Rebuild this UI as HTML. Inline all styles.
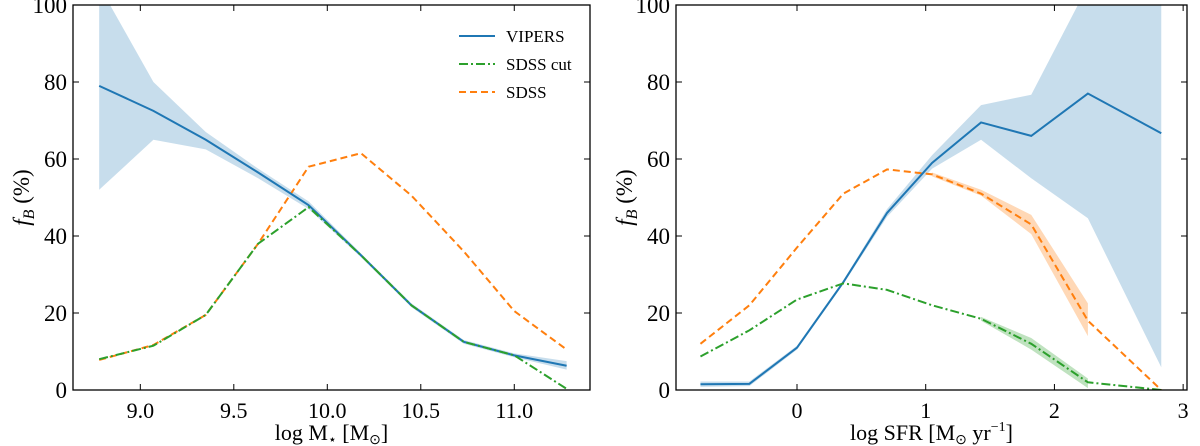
<!DOCTYPE html>
<html><head><meta charset="utf-8"><style>
body{margin:0;background:#fff}
svg{display:block;font-family:"Liberation Serif",serif}
</style></head><body>
<svg id="c" width="1200" height="446"></svg>
<script>
const leftX=[8.78,9.07,9.35,9.63,9.90,10.18,10.45,10.73,11.00,11.28];
const leftVipers=[79,72.5,65,56.5,48,35,22,12.5,9,6.3];
const leftVipersHi=[105,80,67,57.5,49,35.5,22.5,13,9.5,7.5];
const leftVipersLo=[52,65,62.5,55,47,34.5,21.5,12,8.5,5.3];
const leftCut=[8,11.5,19.5,38,47.5,35,22,12.5,9,0.3];
const leftSdss=[7.8,11.7,19.5,38,58,61.5,50.5,36,20.5,10.5];
const leftXTicks=[9.0,9.5,10.0,10.5,11.0];
const leftXLabels=["9.0","9.5","10.0","10.5","11.0"];
const yTicks=[0,20,40,60,80,100];

const rightX=[-0.75,-0.37,0.0,0.36,0.70,1.05,1.43,1.82,2.26,2.83];
const rightVipers=[1.5,1.6,11,28,46,59,69.5,66,77,66.7];
const rightVipersHi=[2.2,2.2,11.5,28.5,47,61,74,76.7,105,105];
const rightVipersLo=[0.8,1,10.5,27.5,45,57.5,65,55,44.6,5.9];
const rightCut=[8.7,15.5,23.5,27.7,26,22,18.5,12,2,0];
const rightCutHi=[19,13.5,3];
const rightCutLo=[18,10.5,0.5];
const rightSdss=[12,22,37,51,57.3,56,51,43,18,0];
const rightSdssBandX=[1.05,1.43,1.82,2.26];
const rightSdssHi=[56.5,52,45.5,22.5];
const rightSdssLo=[55.5,50.5,40.5,14];
const rightCutBandX=[1.43,1.82,2.26];
const rightXTicks=[0,1,2,3];
const rightXLabels=["0","1","2","3"];

const NS="http://www.w3.org/2000/svg";
const svg=document.getElementById('c');
function mk(tag,attrs,parent){const e=document.createElementNS(NS,tag);for(const k in attrs)e.setAttribute(k,attrs[k]);(parent||svg).appendChild(e);return e;}
const BLUE="#1f77b4",ORANGE="#ff7f0e",GREEN="#2ca02c";

function panel(P){
  const g=mk('g',{});
  
  
  const sx=v=>P.x0+(v-P.xmin)/(P.xmax-P.xmin)*(P.x1-P.x0);
  const sy=v=>P.y1-(v/100)*(P.y1-P.y0);
  const clipId=P.name+'-clip';
  const cp=mk('clipPath',{id:clipId},g);
  mk('rect',{x:P.x0,y:P.y0,width:P.x1-P.x0,height:P.y1-P.y0},cp);
  const plot=mk('g',{'clip-path':'url(#'+clipId+')'},g);
  function band(xs,hi,lo,color,alpha,name){
    let d='M'+xs.map((x,i)=>sx(x)+','+sy(hi[i])).join('L');
    d+='L'+xs.map((x,i)=>[sx(x),sy(lo[i])]).reverse().map(p=>p.join(',')).join('L')+'Z';
    const p=mk('path',{d:d,fill:color,'fill-opacity':alpha,stroke:'none'},plot);
    
    
  }
  function line(xs,ys,color,dash,name){
    const p=mk('polyline',{points:xs.map((x,i)=>sx(x)+','+sy(ys[i])).join(' '),fill:'none',stroke:color,'stroke-width':2,'stroke-dasharray':dash||'none'},plot);
    
    
  }
  P.bands.forEach(b=>band(b[0],b[1],b[2],b[3],b[4],b[5]));
  P.lines.forEach(l=>line(l[0],l[1],l[2],l[3],l[4]));
  const fr=mk('rect',{x:P.x0,y:P.y0,width:P.x1-P.x0,height:P.y1-P.y0,fill:'none',stroke:'#000','stroke-width':1.3},g);
  
  
  yTicks.forEach(v=>{
    const y=sy(v);
    mk('line',{x1:P.x0,x2:P.x0+6,y1:y,y2:y,stroke:'#000','stroke-width':1},g);
    mk('line',{x1:P.x1,x2:P.x1-6,y1:y,y2:y,stroke:'#000','stroke-width':1},g);
    const t=mk('text',{x:P.x0-6,y:y+8,'text-anchor':'end','font-size':23},g);
    t.textContent=String(v);
    
    
  });
  P.xt.forEach((v,i)=>{
    const x=sx(v);
    mk('line',{x1:x,x2:x,y1:P.y1,y2:P.y1-6,stroke:'#000','stroke-width':1},g);
    mk('line',{x1:x,x2:x,y1:P.y0,y2:P.y0+6,stroke:'#000','stroke-width':1},g);
    const t=mk('text',{x:x,y:P.y1+28,'text-anchor':'middle','font-size':22},g);
    t.textContent=P.xl[i];
    
    
  });
  const xt=mk('text',{x:(P.x0+P.x1)/2,y:440,'text-anchor':'middle','font-size':22},g);
  xt.innerHTML=P.xlabel;
  
  
  const yt=mk('text',{x:0,y:0,'text-anchor':'middle','font-size':23,transform:'translate('+(P.x0-44)+','+((P.y0+P.y1)/2)+') rotate(-90)'},g);
  yt.innerHTML='<tspan font-style="italic">f</tspan><tspan font-style="italic" font-size="16" dy="5">B</tspan><tspan dy="-5"> (%)</tspan>';
  
  
  return {g,sx,sy};
}

panel({name:'stellar-mass-panel',x0:73,x1:590,y0:5,y1:390,xmin:8.64,xmax:11.405,
  xt:leftXTicks,xl:leftXLabels,
  xlabel:'log M<tspan font-size="14" dy="4">⋆</tspan><tspan dy="-4"> [M</tspan><tspan font-size="14" dy="4">⊙</tspan><tspan dy="-4">]</tspan>',
  bands:[[leftX,leftVipersHi,leftVipersLo,BLUE,0.25,'vipers-band']],
  lines:[[leftX,leftSdss,ORANGE,'7,4','sdss-line'],
         [leftX,leftVipers,BLUE,null,'vipers-line'],
         [leftX,leftCut,GREEN,'9,3,2,3','sdss-cut-line']]});

panel({name:'sfr-panel',x0:676,x1:1187,y0:5,y1:390,xmin:-0.94,xmax:3.03,
  xt:rightXTicks,xl:rightXLabels,
  xlabel:'log SFR [M<tspan font-size="14" dy="4">⊙</tspan><tspan dy="-4"> yr</tspan><tspan font-size="14" dy="-9">−1</tspan><tspan dy="9">]</tspan>',
  bands:[[rightX,rightVipersHi,rightVipersLo,BLUE,0.25,'vipers-band'],
         [rightSdssBandX,rightSdssHi,rightSdssLo,ORANGE,0.3,'sdss-band'],
         [rightCutBandX,rightCutHi,rightCutLo,GREEN,0.3,'sdss-cut-band']],
  lines:[[rightX,rightSdss,ORANGE,'7,4','sdss-line'],
         [rightX,rightVipers,BLUE,null,'vipers-line'],
         [rightX,rightCut,GREEN,'9,3,2,3','sdss-cut-line']]});

const lg=mk('g',{});


[['VIPERS',BLUE,'none',36],['SDSS cut',GREEN,'9,3,2,3',64],['SDSS',ORANGE,'7,4',92]].forEach(e=>{
  const it=mk('g',{},lg);
  
  
  mk('line',{x1:459,x2:495,y1:e[3],y2:e[3],stroke:e[1],'stroke-width':2,'stroke-dasharray':e[2]},it);
  const t=mk('text',{x:506,y:e[3]+6,'font-size':17},it);
  t.textContent=e[0];
});
</script>
</body></html>
